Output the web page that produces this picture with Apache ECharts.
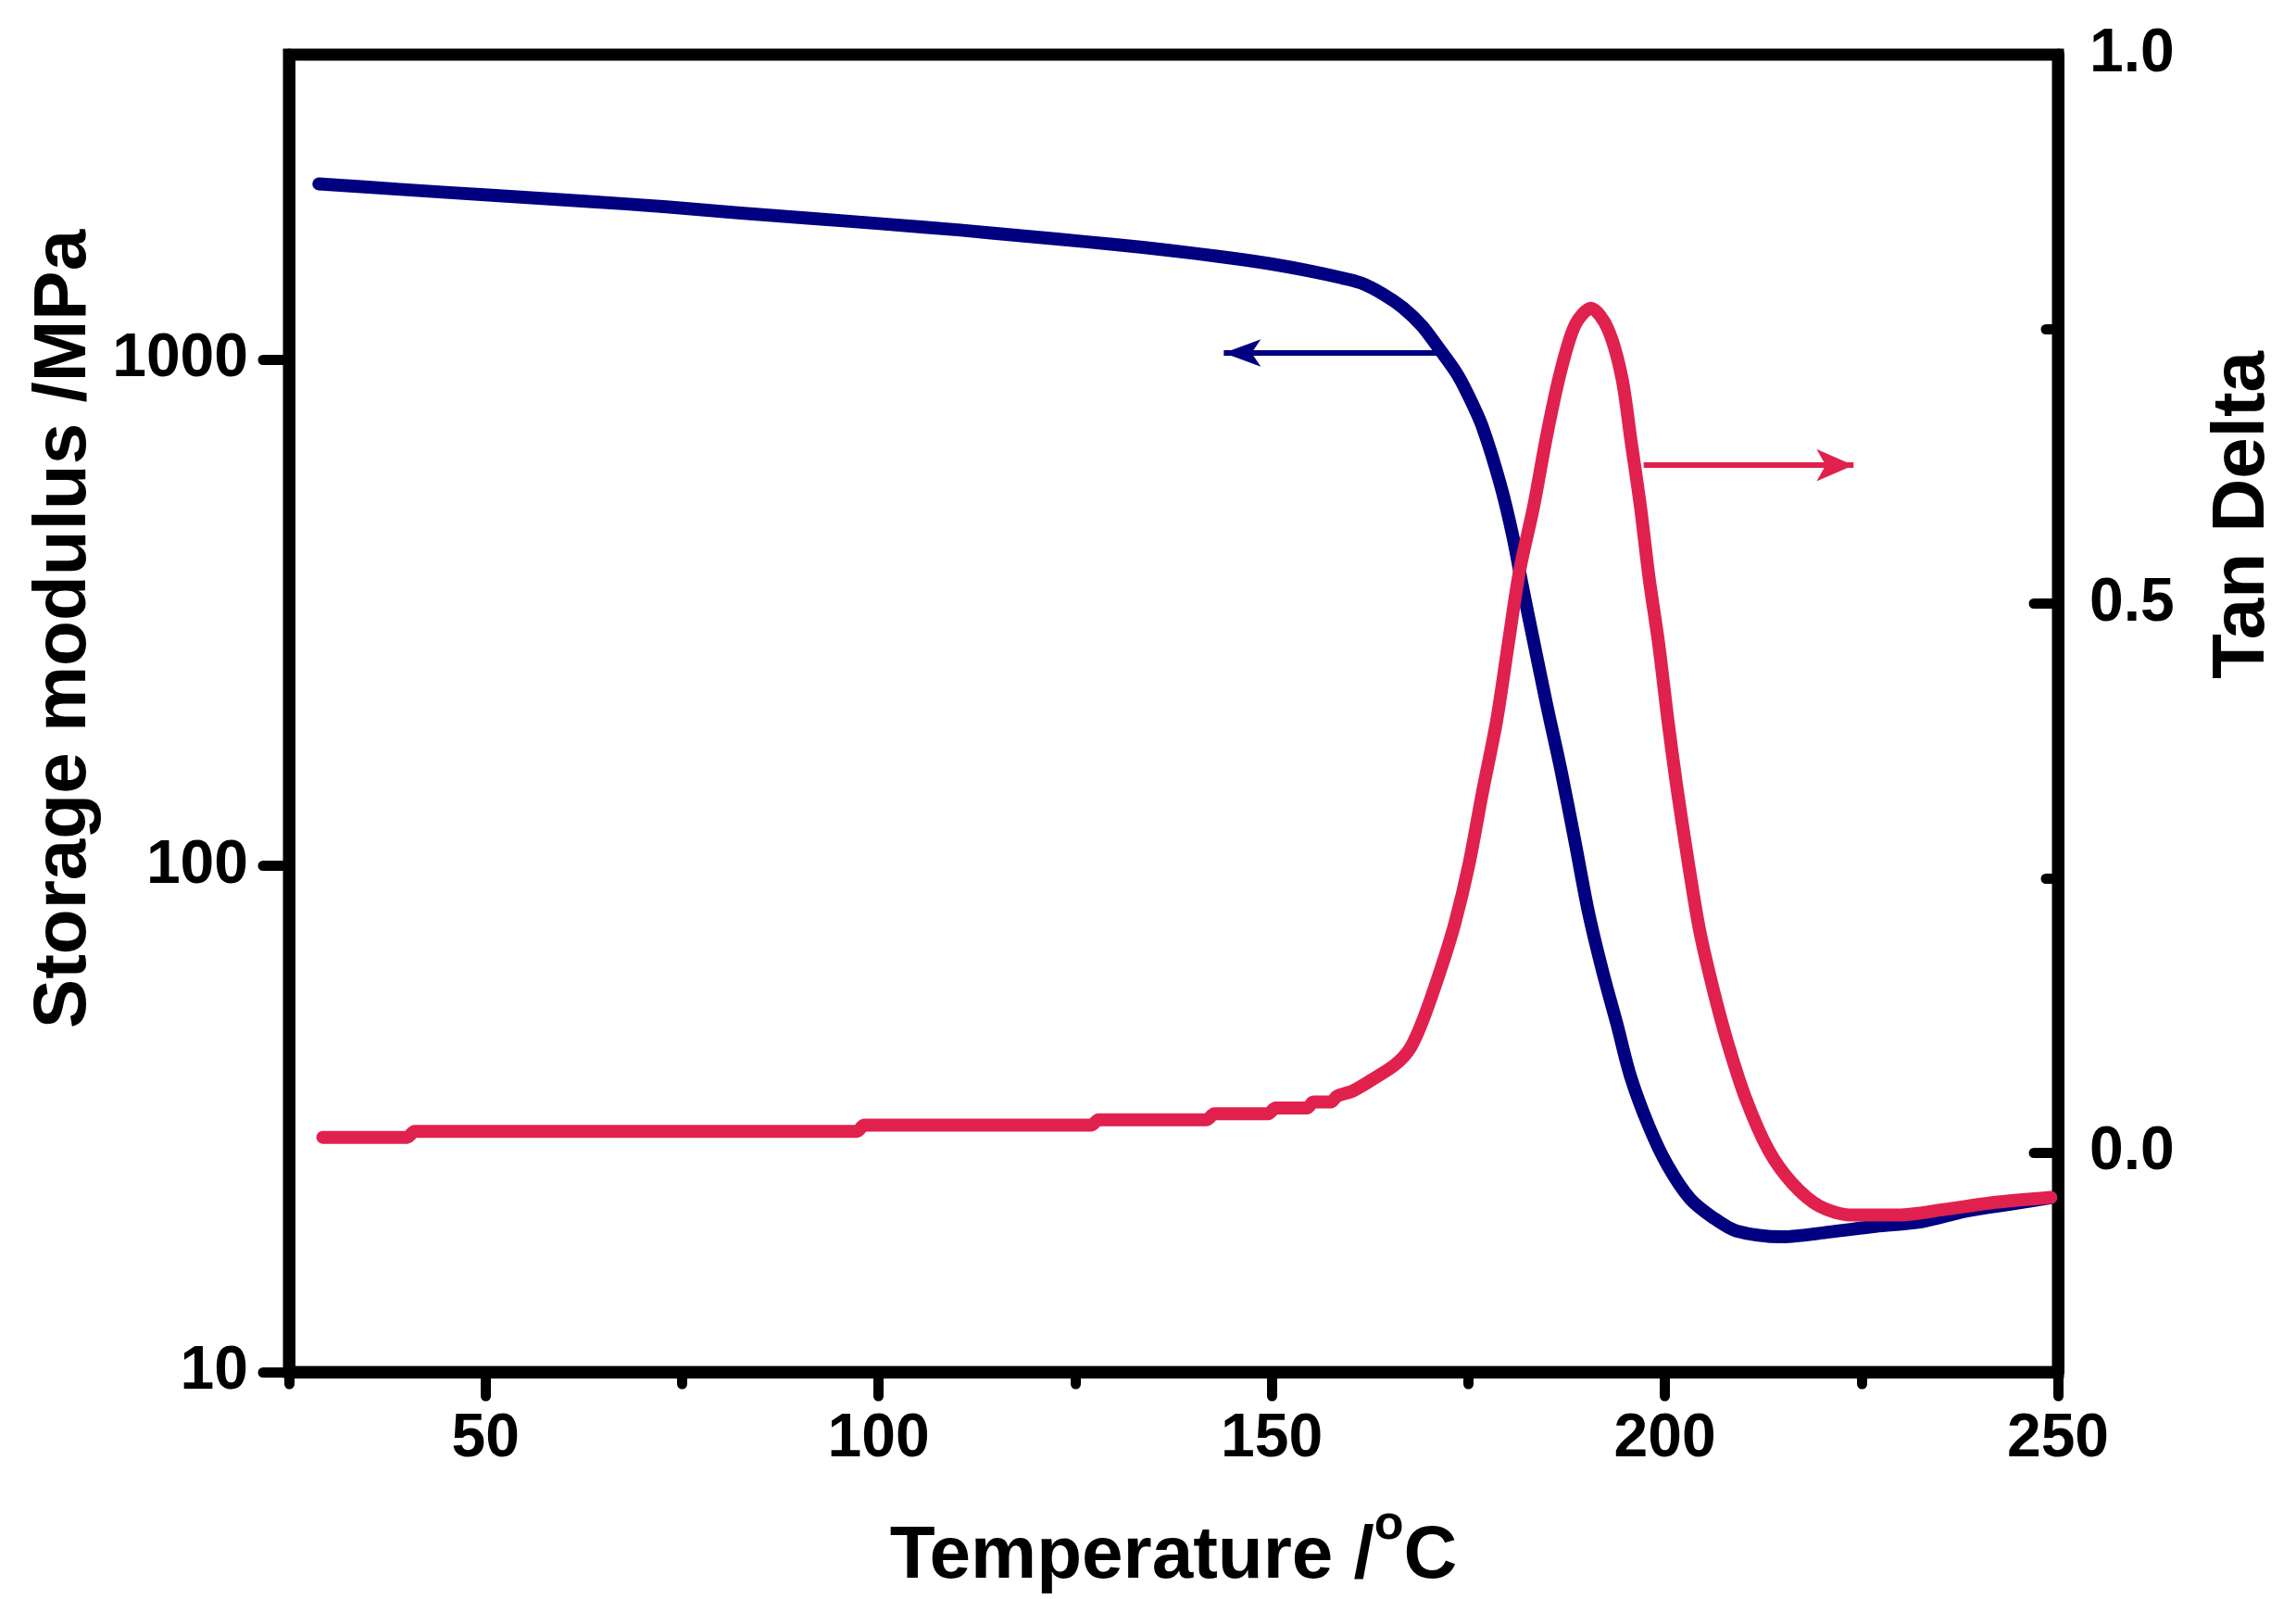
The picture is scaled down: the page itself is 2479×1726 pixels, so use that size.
<!DOCTYPE html>
<html>
<head>
<meta charset="utf-8">
<script src="https://cdn.jsdelivr.net/npm/echarts@6/dist/echarts.min.js"></script>
<style>
html,body{margin:0;padding:0;background:#fff;}
#chart{width:2479px;height:1726px;}
</style>
</head>
<body>
<div id="chart"></div>
<script>
// ---- data ----
const tempModulus = [28.8, 39.1, 50.8, 62.7, 73.0, 82.1, 91.4, 101.2, 110.4, 118.8, 126.6, 133.6, 140.3, 146.1, 150.7, 154.9, 158.4, 161.3, 164.2, 166.7, 169.1, 171.1, 173.5, 175.0, 176.8, 179.1, 180.7, 181.8, 183.3, 185.0, 186.8, 188.6, 190.3, 192.1, 193.9, 195.6, 198.0, 200.4, 203.2, 206.1, 209.1, 215.0, 220.9, 226.8, 232.6, 238.4, 244.3, 249.1];
const storageModulus = [2223, 2168, 2110, 2054, 2002, 1948, 1900, 1849, 1801, 1751, 1707, 1665, 1619, 1576, 1537, 1495, 1455, 1417, 1345, 1265, 1165, 1060, 940, 850, 736, 565, 445, 362, 278, 207, 154, 111, 80.7, 61.7, 48.7, 38.5, 30.5, 25.5, 22.0, 20.2, 19.0, 18.5, 18.9, 19.4, 19.8, 20.8, 21.5, 22.1];

const tempTan = [29.3, 40.0, 41.0, 97.2, 98.2, 127.0, 128.0, 141.7, 142.7, 149.5, 150.5, 154.5, 155.3, 157.5, 158.3, 160.3, 162.7, 165.7, 167.6, 169.2, 171.5, 173.3, 175.1, 176.8, 178.6, 180.1, 181.5, 183.3, 185.0, 186.8, 188.6, 190.6, 192.7, 194.5, 195.7, 196.9, 198.0, 199.2, 200.4, 201.5, 203.0, 204.4, 206.1, 207.9, 210.3, 213.2, 216.2, 219.7, 223.8, 229.7, 235.5, 241.4, 249.1];
const tanDelta = [0.0138, 0.0138, 0.0192, 0.0192, 0.0248, 0.0248, 0.0298, 0.0298, 0.0352, 0.0352, 0.0405, 0.0405, 0.0459, 0.0459, 0.0512, 0.056, 0.066, 0.080, 0.095, 0.120, 0.167, 0.209, 0.263, 0.328, 0.393, 0.464, 0.529, 0.588, 0.654, 0.713, 0.754, 0.769, 0.751, 0.707, 0.648, 0.588, 0.523, 0.464, 0.393, 0.334, 0.263, 0.203, 0.150, 0.102, 0.049, 0.002, -0.028, -0.049, -0.057, -0.057, -0.052, -0.046, -0.041];

// annotation arrows (data coordinates: [temperature, value])
const arrowModulus = [[171.1, 1030], [143.9, 1030]];
const arrowTan = [[197.3, 0.626], [224.0, 0.626]];

// tick values
const xMajorTicks = [50, 100, 150, 200, 250];
const xMinorTicks = [25, 75, 125, 175, 225];
const leftTicks = [10, 100, 1000];
const rightMajorTicks = [0, 0.5, 1.0];
const rightMinorTicks = [0.25, 0.75];

const BLUE = '#000080';
const RED = '#E0214E';
const FONT = '"Liberation Sans", Arial, sans-serif';

const chart = echarts.init(document.getElementById('chart'), null, {renderer: 'canvas'});

const labelStyle = {fontFamily: FONT, fontWeight: 'bold', fontSize: 66, color: '#000'};
const nameStyleBase = {fontFamily: FONT, fontWeight: 'bold', fontSize: 80, color: '#000'};

const option = {
  animation: false,
  backgroundColor: '#fff',
  grid: {
    left: 312, right: 257, top: 59, bottom: 242,
    show: true, borderColor: '#000', borderWidth: 13, backgroundColor: 'transparent'
  },
  xAxis: [
    {
      type: 'value', position: 'bottom', min: 25, max: 250,
      axisLine: {show: true, onZero: false, lineStyle: {color: '#000', width: 13}},
      axisTick: {show: true, customValues: xMajorTicks, length: 26, lineStyle: {color: '#000', width: 11, cap: 'round'}},
      axisLabel: Object.assign({customValues: xMajorTicks, margin: 40}, labelStyle),
      splitLine: {show: false},
      name: '{t|Temperature /}{s|o}{t|C}',
      nameLocation: 'middle',
      nameGap: 140,
      nameTextStyle: {
        rich: {
          t: Object.assign({lineHeight: 100, verticalAlign: 'bottom'}, nameStyleBase),
          s: {fontFamily: FONT, fontWeight: 'bold', fontSize: 52, color: '#000', lineHeight: 52, verticalAlign: 'top'}
        }
      }
    },
    {
      type: 'value', position: 'bottom', min: 25, max: 250,
      axisLine: {show: false, onZero: false},
      axisTick: {show: true, customValues: xMinorTicks, length: 13, lineStyle: {color: '#000', width: 11, cap: 'round'}},
      axisLabel: {show: false},
      splitLine: {show: false}
    }
  ],
  yAxis: [
    {
      type: 'log', logBase: 10, position: 'left', min: 10, max: 4000,
      axisLine: {show: true, onZero: false, lineStyle: {color: '#000', width: 13}},
      axisTick: {show: true, customValues: leftTicks, length: 28, lineStyle: {color: '#000', width: 11, cap: 'round'}},
      axisLabel: Object.assign({customValues: leftTicks, margin: 44, formatter: v => String(Math.round(v))}, labelStyle),
      splitLine: {show: false},
      minorTick: {show: false},
      name: 'Storage modulus /MPa',
      nameLocation: 'middle',
      nameRotate: 90,
      nameGap: 196,
      nameTextStyle: Object.assign({padding: [0, 0, 0, 182]}, nameStyleBase)
    },
    {
      type: 'value', position: 'right', min: -0.2, max: 1.0,
      axisLine: {show: true, onZero: false, lineStyle: {color: '#000', width: 13}},
      axisTick: {show: true, inside: true, customValues: rightMajorTicks, length: 26, lineStyle: {color: '#000', width: 11, cap: 'round'}},
      axisLabel: Object.assign({customValues: rightMajorTicks, margin: 34, formatter: v => Number(v).toFixed(1)}, labelStyle),
      splitLine: {show: false},
      name: 'Tan Delta',
      nameLocation: 'middle',
      nameRotate: 90,
      nameGap: 160,
      nameTextStyle: Object.assign({padding: [0, 0, 0, 428]}, nameStyleBase)
    },
    {
      type: 'value', position: 'right', min: -0.2, max: 1.0,
      axisLine: {show: false, onZero: false},
      axisTick: {show: true, inside: true, customValues: rightMinorTicks, length: 13, lineStyle: {color: '#000', width: 11, cap: 'round'}},
      axisLabel: {show: false},
      splitLine: {show: false}
    }
  ],
  series: [
    {
      name: 'Storage modulus', type: 'line', xAxisIndex: 0, yAxisIndex: 0,
      data: tempModulus.map((t, i) => [t, storageModulus[i]]),
      showSymbol: false, symbol: 'none',
      smooth: 0.3,
      lineStyle: {color: BLUE, width: 14, cap: 'round', join: 'round'},
      itemStyle: {color: BLUE},
      z: 3,
      markLine: {
        silent: true, animation: false,
        label: {show: false},
        lineStyle: {color: BLUE, width: 6, type: 'solid'},
        emphasis: {disabled: true},
        data: [[
          {coord: arrowModulus[0], symbol: 'none'},
          {coord: arrowModulus[1], symbol: 'arrow', symbolSize: [22, 40]}
        ]]
      }
    },
    {
      name: 'Tan Delta', type: 'line', xAxisIndex: 0, yAxisIndex: 1,
      data: tempTan.map((t, i) => [t, tanDelta[i]]),
      showSymbol: false, symbol: 'none',
      smooth: 0.3,
      lineStyle: {color: RED, width: 14, cap: 'round', join: 'round'},
      itemStyle: {color: RED},
      z: 4,
      markLine: {
        silent: true, animation: false,
        label: {show: false},
        lineStyle: {color: RED, width: 6, type: 'solid'},
        emphasis: {disabled: true},
        data: [[
          {coord: arrowTan[0], symbol: 'none'},
          {coord: arrowTan[1], symbol: 'arrow', symbolSize: [26, 40]}
        ]]
      }
    }
  ]
};
chart.setOption(option);
</script>
</body>
</html>
